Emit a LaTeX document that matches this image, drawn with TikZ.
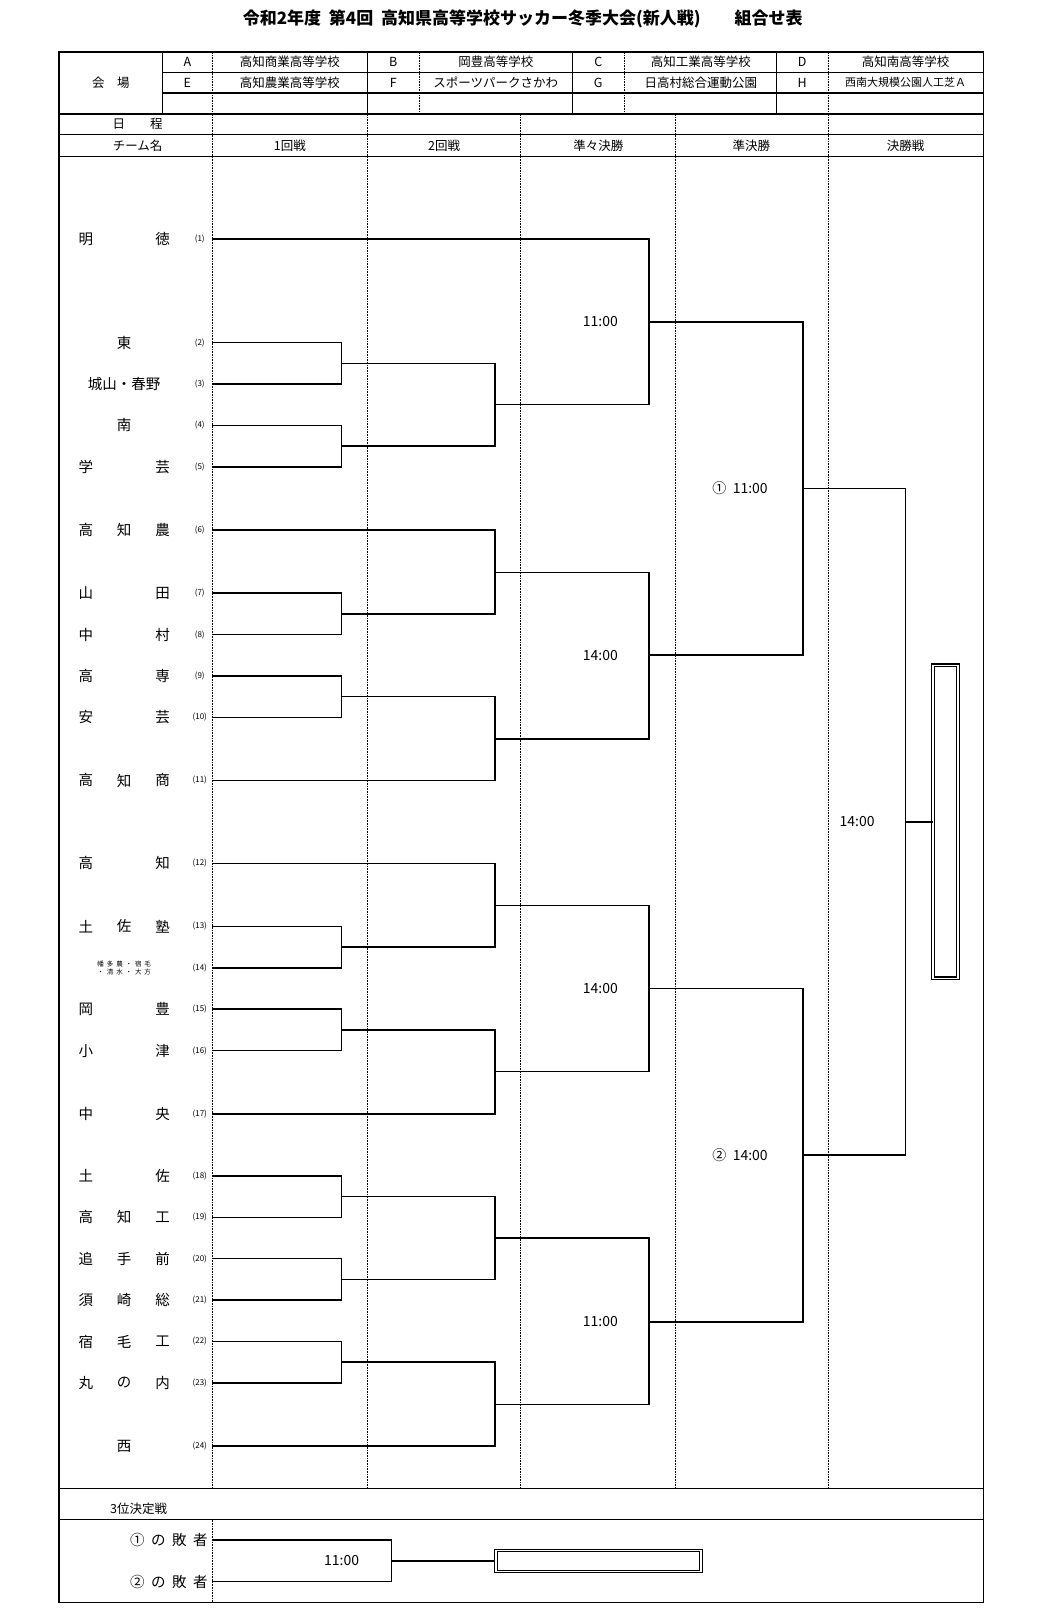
\documentclass[tikz,border=0pt]{standalone}
\usepackage{fontspec}
\setmainfont{Noto Sans CJK JP}
\begin{document}
\begin{tikzpicture}[x=1.035pt,y=-1.035pt,
  thk/.style={line width=1.6pt},
  frame/.style={line width=1.5pt},
  dsh/.style={line width=0.6pt,densely dotted},
  br/.style={line width=1.5pt},
  tm/.style={font=\fontsize{14.5}{15}\selectfont},
  num/.style={font=\fontsize{8}{8}\selectfont},
  hd/.style={font=\fontsize{12.5}{13}\selectfont},
  tt/.style={font=\fontsize{14}{14}\selectfont}]
\useasboundingbox (0,0) rectangle (1019,1567);
\fill[white] (0,0) rectangle (1019,1567);
\node[font=\bfseries\fontsize{17}{17}\selectfont] (title) at (505,18) {令和2年度\ \ 第4回\ \ 高知県高等学校サッカー冬季大会(新人戦)\qquad 組合せ表};
% frame
\draw[frame] (57,50) rectangle (950,1548);
\draw[frame] (157,50) -- (157,110);
\foreach \x in {355,553,750} \draw[frame] (\x,50) -- (\x,110);
\draw[frame] (157,70) -- (950,70);
\draw[frame] (157,90) -- (950,90);
\draw[frame] (57,110) -- (950,110);
\draw[line width=0.8pt] (57,130) -- (950,130);
\draw[frame] (57,151) -- (950,151);
\draw[frame] (57,1438) -- (950,1438);
\draw[frame] (57,1468) -- (950,1468);
\foreach \x in {205,405,603,800} \draw[dsh] (\x,50) -- (\x,110);
\foreach \x in {205,355,503,652,800} \draw[dsh] (\x,110) -- (\x,1438);
\draw[dsh] (205,1468) -- (205,1548);
% venue
\node[hd] (kaijo) at (107,80) {会\quad 場};
\foreach \l/\x/\y in {A/181/60,E/181/80,B/380/60,F/380/80,C/578/60,G/578/80,D/775/60,H/775/80}
  \node[hd] (v\l) at (\x,\y) {\l};
\node[hd] (n1) at (280,60) {高知商業高等学校};
\node[hd] (n2) at (280,80) {高知農業高等学校};
\node[hd] (n3) at (479,60) {岡豊高等学校};
\node[hd] (n4) at (479,80) {スポーツパークさかわ};
\node[hd] (n5) at (677,60) {高知工業高等学校};
\node[hd] (n6) at (677,80) {日高村総合運動公園};
\node[hd] (n7) at (875,60) {高知南高等学校};
\node[hd,font=\fontsize{11}{11}\selectfont] (n8) at (875,80) {西南大規模公園人工芝Ａ};
\node[hd] (nittei) at (133,120) {日\qquad 程};
\node[hd] (team) at (133,141) {チーム名};
\node[hd] (r1) at (280,141) {1回戦};
\node[hd] (r2) at (429,141) {2回戦};
\node[hd] (r3) at (578,141) {準々決勝};
\node[hd] (r4) at (726,141) {準決勝};
\node[hd] (r5) at (875,141) {決勝戦};
% teams: 3-char names
\foreach \i/\y/\a/\b/\c in {6/512/高/知/農,11/754/高/知/商,13/895/土/佐/塾,19/1176/高/知/工,20/1216/追/手/前,21/1256/須/崎/総,22/1296/宿/毛/工,23/1336/丸/の/内}{
  \node[tm] (ta\i) at (83,\y) {\a}; \node[tm] (tb\i) at (120,\y) {\b}; \node[tm] (tc\i) at (157,\y) {\c};}
\foreach \i/\y/\a/\c in {1/231/明/徳,5/451/学/芸,7/573/山/田,8/613/中/村,9/653/高/専,10/693/安/芸,12/834/高/知,15/975/岡/豊,16/1015/小/津,17/1076/中/央,18/1136/土/佐}{
  \node[tm] (ta\i) at (83,\y) {\a}; \node[tm] (tc\i) at (157,\y) {\c};}
\foreach \i/\y/\a in {2/331/東,4/411/南,24/1397/西}
  \node[tm] (tb\i) at (120,\y) {\a};
\node[tm] (tb3) at (120,371) {城山・春野};
\node[font=\fontsize{6.5}{8}\selectfont,align=center] (tb14) at (120,935) {幡\ \ 多\ \ 農\ \ ・\ \ 宿\ \ 毛\\ ・\ \ 清\ \ 水\ \ ・\ \ 大\ \ 方};
% numbers & team line ends
\foreach \i/\y in {1/231,2/331,3/371,4/411,5/451,6/512,7/573,8/613,9/653,10/693,11/754,12/834,13/895,14/935,15/975,16/1015,17/1076,18/1136,19/1176,20/1216,21/1256,22/1296,23/1336,24/1397}{
  \node[num] (num\i) at (193,\y) {(\i)};
  \coordinate (p\i) at (205,\y);}
% first round pairs
\foreach \a/\b/\ya/\yb in {2/3/331/371,4/5/411/451,7/8/573/613,9/10/653/693,13/14/895/935,15/16/975/1015,18/19/1136/1176,20/21/1216/1256,22/23/1296/1336}{
  \draw[br] (p\a) -- (330,\ya) -- (330,\yb) -- (p\b);
  \coordinate (m\a) at (330,{(\ya+\yb)/2});}
% second round
\draw[br] (m2) -- (478,351) -- (478,431) -- (m4);
\draw[br] (p6) -- (478,512) -- (478,593) -- (m7);
\draw[br] (m9) -- (478,673) -- (478,754) -- (p11);
\draw[br] (p12) -- (478,834) -- (478,915) -- (m13);
\draw[br] (m15) -- (478,995) -- (478,1076) -- (p17);
\draw[br] (m18) -- (478,1156) -- (478,1236) -- (m20);
\draw[br] (m22) -- (478,1316) -- (478,1397) -- (p24);
% QF
\draw[br] (p1) -- (627,231) -- (627,391) -- (478,391);
\draw[br] (478,553) -- (627,553) -- (627,714) -- (478,714);
\draw[br] (478,875) -- (627,875) -- (627,1035) -- (478,1035);
\draw[br] (478,1196) -- (627,1196) -- (627,1357) -- (478,1357);
% SF
\draw[br] (627,311) -- (776,311) -- (776,633) -- (627,633);
\draw[br] (627,955) -- (776,955) -- (776,1277) -- (627,1277);
% final
\draw[br] (776,472) -- (875,472) -- (875,1116) -- (776,1116);
\node[draw,line width=1.1pt,double,double distance=1.6pt,minimum width=25pt,minimum height=313pt,inner sep=0pt] (champ) at (913.5,794) {};
\draw[br] (875,794) -- (champ.west);
% times
\node[tt] (t1) at (580,311) {11:00};
\node[tt] (t2) at (580,633) {14:00};
\node[tt] (t3) at (580,955) {14:00};
\node[tt] (t4) at (580,1277) {11:00};
\node[tt] (t5) at (715,472) {①\ \ 11:00};
\node[tt] (t6) at (715,1116) {②\ \ 14:00};
\node[tt] (t7) at (828,794) {14:00};
% third place
\node[hd,anchor=west] (third) at (103,1458) {3位決定戦};
\node[tm,anchor=east] (l1) at (204,1488) {①\ \ の\ \ 敗\ \ 者};
\node[tm,anchor=east] (l2) at (204,1528) {②\ \ の\ \ 敗\ \ 者};
\coordinate (q1) at (205,1488);
\coordinate (q2) at (205,1528);
\draw[br] (q1) -- (378,1488) -- (378,1528) -- (q2);
\node[draw,line width=1.1pt,double,double distance=1.6pt,minimum width=205pt,minimum height=21pt,inner sep=0pt] (third box) at (578,1508) {};
\draw[br] (378,1508) -- (third box.west);
\node[tt] (t8) at (330,1508) {11:00};
\end{tikzpicture}
\end{document}
